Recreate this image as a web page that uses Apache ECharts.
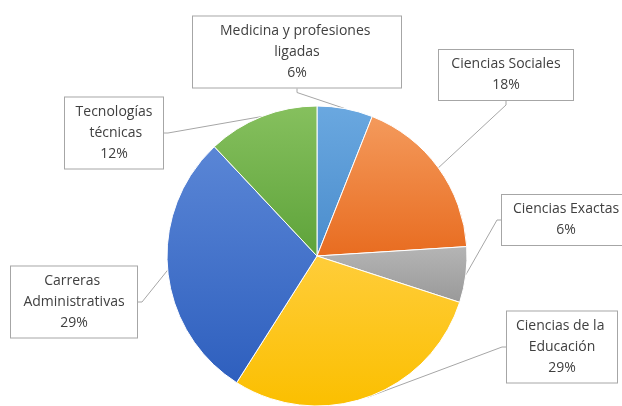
<!DOCTYPE html>
<html>
<head>
<meta charset="utf-8">
<script src="https://cdn.jsdelivr.net/npm/echarts@6/dist/echarts.min.js"></script>
<style>
  html, body { margin: 0; padding: 0; background: #fff; }
  #chart { width: 622px; height: 406px; }
</style>
</head>
<body>
<div id="chart"></div>
<script>
// categories and shares (%), clockwise from 12 o'clock
var categories = ['Medicina y profesiones ligadas', 'Ciencias Sociales', 'Ciencias Exactas',
  'Ciencias de la Educación', 'Carreras Administrativas', 'Tecnologías técnicas'];
var shares = [6, 18, 6, 29, 29, 12];

// slice colours, light (top) -> dark (bottom)
var topColors = ['#6aa8e0', '#f49a5c', '#b5b5b5', '#ffcd3a', '#5a86d6', '#86c05e'];
var bottomColors = ['#4a8ccc', '#e86c20', '#999999', '#fbbf00', '#2e5fbe', '#5ea33a'];

// callout boxes: centre x, centre y, text width, horizontal padding
var boxCenters = [[297, 52], [506, 75], [566, 220], [562, 347], [74, 302], [114, 133]];
var boxWidths = [178, 120, 120, 96, 112, 90];
var boxPads = [15, 7, 4, 7, 7, 4];

var chart = echarts.init(document.getElementById('chart'));

var pieData = categories.map(function (name, i) {
  return {
    name: name,
    value: shares[i],
    itemStyle: {
      color: new echarts.graphic.LinearGradient(0, 0, 0, 1, [
        { offset: 0, color: topColors[i] },
        { offset: 1, color: bottomColors[i] }
      ])
    },
    label: { width: boxWidths[i], padding: [4, boxPads[i]] }
  };
});

chart.setOption({
  animation: false,
  series: [{
    type: 'pie',
    center: [317, 256],
    radius: 150,
    startAngle: 90,
    clockwise: true,
    data: pieData,
    itemStyle: { borderColor: '#ffffff', borderWidth: 1 },
    label: {
      show: true,
      position: 'outside',
      formatter: '{b}\n{d}%',
      fontFamily: '"Open Sans", Lato, sans-serif',
      fontSize: 14,
      lineHeight: 21,
      color: '#404040',
      align: 'center',
      overflow: 'break',
      backgroundColor: '#ffffff',
      borderColor: '#a6a6a6',
      borderWidth: 1
    },
    labelLine: {
      show: true,
      length: 8,
      length2: 4,
      lineStyle: { color: '#a6a6a6', width: 1 }
    },
    labelLayout: function (params) {
      var c = boxCenters[params.dataIndex];
      return { x: c[0], y: c[1], align: 'center', verticalAlign: 'middle' };
    }
  }]
});
</script>
</body>
</html>
